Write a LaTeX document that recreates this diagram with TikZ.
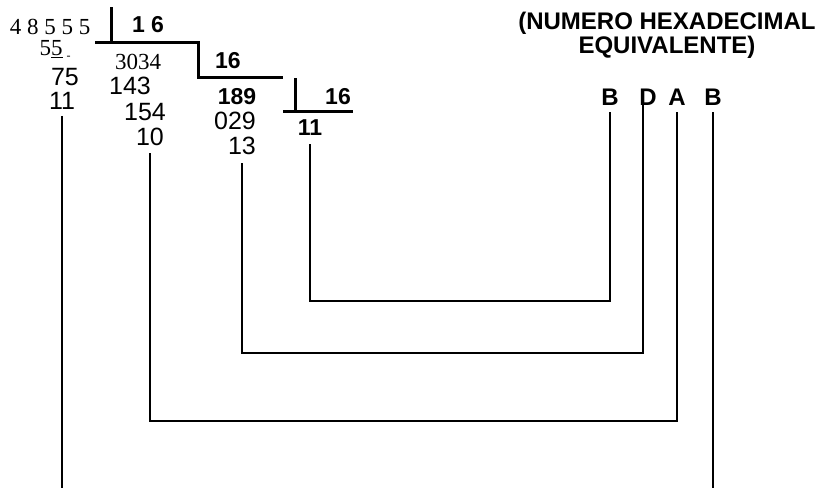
\documentclass[tikz,border=0pt]{standalone}
\usepackage{fontspec}
\setmainfont{Liberation Serif}
\setsansfont{Liberation Sans}
\usetikzlibrary{positioning}

\begin{document}
\begin{tikzpicture}[
    x=1pt, y=-1pt,
    roman/.style={font=\fontsize{23}{25}\selectfont\rmfamily, inner sep=1pt},
    digit/.style={font=\fontsize{25}{27}\selectfont\sffamily, inner sep=1pt},
    bdigit/.style={font=\fontsize{23}{25}\selectfont\sffamily\bfseries, inner sep=1pt},
    hexdigit/.style={font=\fontsize{24}{26}\selectfont\sffamily\bfseries, inner sep=7pt},
    title/.style={font=\fontsize{24}{24}\selectfont\sffamily\bfseries, align=center},
    bracket/.style={line width=3pt},
    link/.style={line width=2.5pt}
]
\useasboundingbox (0,0) rectangle (819,488);

% Nodes first division
\node (dividend) [roman] at (50,27) {4 8 5 5 5};
\node (div1) [bdigit] at (148,25) {1 6};
\node (p1) [roman, inner sep=0pt] at (55,50) {5\underline{5}\hspace{4pt}\raisebox{-4pt}{\fontsize{12}{12}\selectfont -}};
\node (p2) [digit] at (65,77) {75};
\node (r1) [digit] at (62,101) {11};

% Nodes second division
\node (q1) [roman] at (138,62) {3034};
\node (p3) [digit] at (130,86) {143};
\node (p4) [digit] at (145,112) {154};
\node (r2) [digit] at (150,137) {10};
\node (div2) [bdigit] at (228,61) {16};

% Nodes third division
\node (q2) [bdigit] at (237,97) {189};
\node (p5) [digit] at (235,121) {029};
\node (r3) [digit] at (242,146) {13};
\node (div3) [bdigit] at (338,97) {16};
\node (q3) [bdigit] at (310,128) {11};

% Nodes result
\node (head) [title] at (667,35) {(NUMERO HEXADECIMAL\\EQUIVALENTE)};
\node (h1) [hexdigit] at (610,97) {B};
\node (h2) [hexdigit] at (648,97) {D};
\node (h3) [hexdigit] at (677,97) {A};
\node (h4) [hexdigit] at (713,97) {B};

% Division brackets
\draw [bracket] (111,7) -- (111,42);
\draw [bracket] (95,42) -- (198,42) -- (198,77) -- (283,77);
\draw [bracket] (295,78) -- (295,111);
\draw [bracket] (283,111) -- (353,111);

% Paths
\coordinate (bot) at (0,488);
\coordinate (y3) at (0,301);
\coordinate (y2) at (0,353);
\coordinate (y1) at (0,421);
\coordinate (dstem) at ([xshift=-5pt]h2.south);
\draw [link] ([yshift=-5pt]r1.south) -- (r1.south |- bot);
\draw [link] ([yshift=-7pt]q3.south) |- (h1.south |- y3) -- (h1.south);
\draw [link] ([yshift=-7pt]r3.south) |- (dstem |- y2) -- (dstem |- h2.center);
\draw [link] ([yshift=-6pt]r2.south) |- (h3.south |- y1) -- (h3.south);
\draw [link] (h4.south) -- (h4.south |- bot);

\end{tikzpicture}
\end{document}
